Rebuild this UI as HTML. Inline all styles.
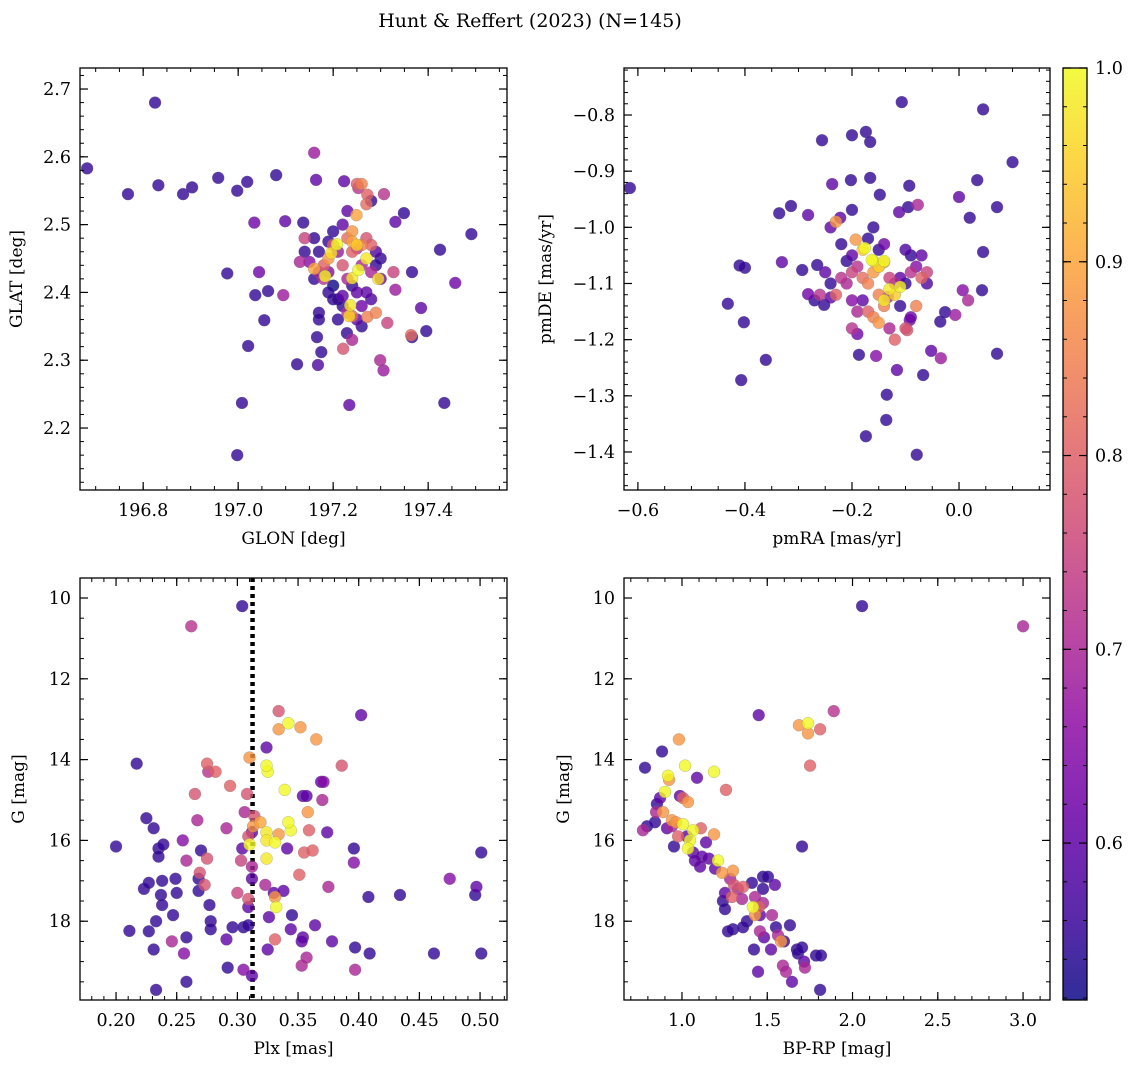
<!DOCTYPE html>
<html><head><meta charset="utf-8"><style>
body{margin:0;background:#fff;}
svg text{font-family:"DejaVu Serif","Liberation Serif",serif;fill:#000;}
</style></head><body>
<svg id="fig" width="1136" height="1067" xmlns="http://www.w3.org/2000/svg">
<rect width="1136" height="1067" fill="#fff"/>
<text x="530" y="27" font-size="19" text-anchor="middle">Hunt &amp; Reffert (2023) (N=145)</text>
</svg>
<script>
// Panel data: [x, y, membership probability]
const p1Points = [
[196.682,2.583,0.55],[196.768,2.545,0.55],[196.832,2.558,0.55],[196.825,2.68,0.55],[196.884,2.545,0.55],[196.903,2.555,0.55],[196.958,2.569,0.55],[196.998,2.55,0.55],[197.019,2.563,0.55],[197.08,2.573,0.55],[197.16,2.606,0.68],[196.977,2.428,0.55],[197.034,2.503,0.62],[197.044,2.43,0.62],[197.036,2.396,0.55],[197.063,2.402,0.55],[197.055,2.359,0.55],[197.021,2.321,0.55],[197.008,2.237,0.55],[196.998,2.16,0.55],[197.095,2.396,0.68],[197.099,2.505,0.6],[197.137,2.503,0.55],[197.164,2.566,0.6],[197.124,2.294,0.55],[197.168,2.293,0.58],[197.166,2.334,0.55],[197.234,2.234,0.6],[197.223,2.564,0.6],[197.253,2.554,0.72],[197.272,2.544,0.8],[197.307,2.545,0.72],[197.349,2.517,0.55],[197.331,2.504,0.6],[197.366,2.43,0.55],[197.366,2.334,0.55],[197.385,2.377,0.6],[197.396,2.343,0.55],[197.425,2.463,0.55],[197.434,2.237,0.55],[197.457,2.414,0.62],[197.491,2.486,0.55],[197.299,2.3,0.7],[197.306,2.285,0.68],[197.272,2.364,0.85],[197.221,2.317,0.78],[197.331,2.404,0.68],[197.364,2.337,0.82],[197.314,2.355,0.75],[197.327,2.43,0.75],[197.229,2.34,0.55],[197.175,2.312,0.55],
[197.208,2.471,1.0],[197.253,2.433,1.0],[197.24,2.421,0.98],[197.295,2.42,0.97],[197.183,2.424,0.99],[197.196,2.458,0.97],[197.234,2.365,0.96],[197.236,2.381,0.98],[197.249,2.514,0.9],
[197.23,2.52,0.6],[197.28,2.535,0.55],[197.27,2.53,0.82],[197.25,2.56,0.8],[197.26,2.56,0.85],
[197.13,2.445,0.7],[197.14,2.48,0.75],[197.16,2.48,0.55],[197.17,2.46,0.55],[197.14,2.46,0.55],[197.15,2.445,0.65],[197.18,2.44,0.8],[197.19,2.45,0.88],[197.17,2.43,0.7],[197.16,2.42,0.55],[197.19,2.43,0.65],[197.18,2.42,0.72],[197.2,2.41,0.5],[197.19,2.4,0.55],[197.2,2.39,0.55],[197.21,2.39,0.55],[197.22,2.395,0.6],[197.22,2.38,0.55],[197.23,2.37,0.72],[197.21,2.36,0.55],[197.17,2.37,0.55],[197.17,2.36,0.55],[197.24,2.41,0.55],[197.25,2.4,0.6],[197.23,2.42,0.7],[197.22,2.44,0.78],[197.24,2.46,0.8],[197.25,2.465,0.72],[197.23,2.48,0.82],[197.24,2.49,0.88],[197.22,2.5,0.6],[197.2,2.49,0.55],[197.2,2.47,0.8],[197.21,2.46,0.68],[197.26,2.47,0.85],[197.27,2.48,0.78],[197.28,2.47,0.8],[197.29,2.46,0.58],[197.3,2.45,0.55],[197.29,2.44,0.55],[197.27,2.45,0.98],[197.28,2.43,0.7],[197.26,2.44,0.7],[197.3,2.42,0.62],[197.27,2.4,0.6],[197.28,2.39,0.58],[197.26,2.38,0.62],[197.29,2.37,0.85],[197.24,2.365,0.82],[197.25,2.36,0.6],[197.26,2.35,0.55],[197.24,2.33,0.7],[197.19,2.475,0.55],[197.16,2.435,0.9],[197.24,2.475,0.9],[197.25,2.47,0.95]
];
const p2Points = [
[-0.615,-0.93,0.55],[-0.4,-1.072,0.55],[-0.41,-1.068,0.55],[-0.402,-1.169,0.55],[-0.432,-1.136,0.55],[-0.407,-1.272,0.55],[-0.361,-1.236,0.55],[-0.331,-1.062,0.6],[-0.256,-0.845,0.55],[-0.2,-0.836,0.55],[-0.174,-0.83,0.55],[-0.166,-0.848,0.55],[-0.107,-0.777,0.55],[0.045,-0.79,0.55],[0.1,-0.884,0.55],
[-0.336,-0.975,0.55],[-0.314,-0.962,0.55],[-0.282,-0.978,0.6],[-0.237,-0.923,0.6],[-0.202,-0.916,0.55],[-0.2,-0.969,0.55],[-0.166,-0.912,0.55],[-0.148,-0.942,0.55],[-0.093,-0.926,0.55],[-0.077,-0.96,0.7],[-0.095,-0.964,0.55],[-0.112,-0.973,0.6],[0.034,-0.916,0.55],[0.02,-0.983,0.55],[0.0,-0.946,0.6],[0.071,-0.964,0.55],[0.045,-1.044,0.55],[0.043,-1.112,0.55],[0.007,-1.112,0.65],[0.017,-1.13,0.7],[-0.026,-1.151,0.55],[-0.007,-1.156,0.68],[-0.035,-1.168,0.55],[-0.034,-1.233,0.68],[-0.052,-1.22,0.6],[0.071,-1.225,0.55],[-0.067,-1.263,0.55],[-0.079,-1.405,0.55],[-0.136,-1.343,0.55],[-0.135,-1.298,0.55],[-0.174,-1.372,0.55],[-0.116,-1.254,0.6],[-0.187,-1.227,0.55],[-0.155,-1.229,0.65],[-0.092,-1.165,0.62],[-0.097,-1.183,0.78],[-0.265,-1.067,0.55],[-0.293,-1.076,0.55],[-0.252,-1.138,0.55],[-0.282,-1.119,0.62],[-0.24,-1.125,0.6],
[-0.176,-1.037,1.0],[-0.163,-1.058,1.0],[-0.14,-1.062,0.9],[-0.15,-1.07,0.95],[-0.133,-1.124,0.7],[-0.11,-1.106,0.99],[-0.193,-1.022,0.88],[-0.222,-0.983,0.6],
[-0.25,-1.08,0.6],[-0.24,-1.1,0.55],[-0.23,-1.12,0.8],[-0.22,-1.09,0.72],[-0.21,-1.1,0.7],[-0.2,-1.08,0.75],[-0.19,-1.07,0.72],[-0.2,-1.05,0.6],[-0.21,-1.06,0.55],[-0.18,-1.09,0.82],[-0.17,-1.1,0.85],[-0.16,-1.08,0.88],[-0.15,-1.07,0.95],[-0.14,-1.06,1.0],[-0.16,-1.06,0.98],[-0.13,-1.09,0.75],[-0.12,-1.1,0.7],[-0.11,-1.09,0.6],[-0.1,-1.1,0.55],[-0.09,-1.08,0.72],[-0.08,-1.07,0.65],[-0.07,-1.09,0.8],[-0.06,-1.1,0.58],[-0.15,-1.12,0.85],[-0.14,-1.14,0.85],[-0.14,-1.13,0.98],[-0.17,-1.15,0.8],[-0.16,-1.16,0.85],[-0.15,-1.17,0.88],[-0.19,-1.15,0.7],[-0.2,-1.13,0.65],[-0.18,-1.13,0.6],[-0.2,-1.18,0.72],[-0.19,-1.19,0.62],[-0.13,-1.18,0.7],[-0.12,-1.2,0.8],[-0.1,-1.18,0.78],[-0.09,-1.16,0.62],[-0.08,-1.14,0.85],[-0.11,-1.14,0.55],[-0.12,-1.12,0.95],[-0.13,-1.11,0.98],[-0.24,-1.0,0.6],[-0.23,-0.99,0.88],[-0.22,-1.03,0.55],[-0.17,-1.02,0.55],[-0.16,-1.0,0.55],[-0.15,-1.04,0.55],[-0.14,-1.03,0.62],[-0.1,-1.04,0.58],[-0.09,-1.05,0.55],[-0.07,-1.05,0.6],[-0.06,-1.08,0.75],[-0.18,-1.04,0.95],[-0.26,-1.12,0.72],[-0.27,-1.13,0.55]
];
const p3Points = [
[0.304,10.2,0.55],[0.262,10.7,0.72],[0.2,16.15,0.55],[0.217,14.1,0.55],[0.211,18.24,0.55],[0.225,15.45,0.55],[0.231,15.7,0.55],[0.235,16.2,0.55],[0.239,16.1,0.55],[0.235,16.4,0.55],[0.223,17.2,0.55],[0.227,17.05,0.55],[0.238,17.0,0.55],[0.237,17.35,0.55],[0.238,17.6,0.55],[0.233,18.0,0.55],[0.227,18.25,0.55],[0.231,18.7,0.55],[0.233,19.7,0.55],[0.247,17.85,0.55],[0.249,16.95,0.55],[0.25,17.3,0.55],[0.246,18.5,0.7],[0.258,18.4,0.55],[0.256,18.8,0.65],[0.258,19.5,0.55],[0.255,16.0,0.65],[0.258,16.5,0.7],[0.27,16.25,0.55],[0.268,16.95,0.55],[0.269,16.8,0.78],[0.268,17.25,0.55],[0.273,17.1,0.78],[0.275,16.45,0.78],[0.267,15.5,0.7],[0.265,14.85,0.78],[0.275,14.1,0.8],[0.276,14.3,0.72],[0.282,14.3,0.8],[0.277,17.6,0.55],[0.278,18.0,0.55],[0.278,18.2,0.55],[0.291,15.7,0.7],[0.294,14.65,0.8],[0.291,18.45,0.6],[0.292,19.15,0.55],[0.296,18.15,0.55],[0.303,16.5,0.75],[0.304,16.2,0.6],[0.3,17.3,0.75],[0.305,18.15,0.55],[0.309,18.1,0.55],[0.306,15.3,0.7],[0.308,14.85,0.78],[0.31,13.95,0.88],[0.305,19.2,0.65],[0.312,19.35,0.6],[0.312,15.8,0.6],[0.313,15.65,0.88],[0.309,15.9,0.78],[0.31,16.1,1.0],[0.312,16.65,0.7],[0.309,17.45,0.78],[0.309,17.65,0.6],[0.312,16.95,0.6],[0.314,15.4,0.78],[0.319,15.55,0.9],[0.325,14.3,1.0],[0.324,14.15,1.0],[0.324,13.7,0.6],[0.324,15.8,0.98],[0.324,16.0,0.98],[0.324,16.45,0.98],[0.323,17.1,0.7],[0.326,17.9,0.6],[0.325,18.7,0.6],[0.33,17.3,0.6],[0.331,17.4,0.88],[0.332,17.65,1.0],[0.331,18.45,0.8],[0.334,12.8,0.78],[0.334,13.25,0.88],[0.342,13.1,1.0],[0.352,13.2,0.88],[0.339,14.75,1.0],[0.344,15.75,1.0],[0.342,15.55,1.0],[0.334,15.85,0.88],[0.331,16.05,1.0],[0.341,16.2,0.6],[0.338,17.25,0.6],[0.345,17.85,0.55],[0.344,18.2,0.6],[0.354,18.4,0.6],[0.353,18.5,0.6],[0.353,19.1,0.7],[0.357,18.9,0.7],[0.364,18.1,0.6],[0.354,14.9,0.6],[0.357,14.9,0.6],[0.365,13.5,0.88],[0.358,15.3,0.88],[0.359,15.75,0.8],[0.355,16.3,0.8],[0.362,16.25,0.8],[0.351,16.85,0.8],[0.369,14.55,0.6],[0.371,14.55,0.65],[0.37,15.0,0.7],[0.374,15.8,0.6],[0.375,17.15,0.7],[0.386,14.15,0.78],[0.378,18.5,0.6],[0.396,16.2,0.55],[0.396,16.55,0.65],[0.397,18.65,0.55],[0.397,19.2,0.7],[0.402,12.9,0.6],[0.408,17.4,0.55],[0.409,18.8,0.55],[0.434,17.35,0.55],[0.462,18.8,0.55],[0.475,16.95,0.65],[0.497,17.15,0.6],[0.496,17.35,0.55],[0.501,16.3,0.55],[0.501,18.8,0.55]
];
const p4Points = [
[2.056,10.2,0.55],[3.0,10.7,0.7],[1.89,12.8,0.72],[1.81,13.25,0.8],[1.686,13.15,0.88],[1.739,13.1,1.0],[1.739,13.35,0.88],[1.45,12.9,0.6],[1.751,14.15,0.8],[0.982,13.5,0.88],
[0.783,14.2,0.55],[0.883,13.8,0.55],[0.918,14.4,1.0],[0.924,14.5,0.88],[1.018,14.15,1.0],[1.088,14.45,0.6],[1.188,14.3,1.0],[1.258,14.75,0.8],[0.9,14.8,1.0],[0.871,14.95,0.6],[0.853,15.1,0.55],[0.848,15.3,0.7],[0.889,15.3,0.88],[0.988,14.9,0.6],[1.006,14.95,0.8],[1.035,15.05,0.88],[1.006,15.6,1.0],[0.941,15.5,0.88],[0.965,15.55,0.88],[0.912,15.7,0.6],[0.941,15.65,0.7],[0.795,15.65,0.55],[0.771,15.75,0.7],[0.842,15.55,0.55],[0.977,15.9,0.8],[1.029,15.9,0.6],[1.065,15.75,1.0],[1.047,16.0,1.0],[0.953,16.15,0.55],[1.035,16.2,1.0],[1.065,16.3,0.6],[1.141,16.05,0.6],[1.188,15.85,0.88],[1.111,15.7,0.8],[1.158,16.45,0.6],[1.211,16.5,1.0],[1.117,16.4,0.6],[1.076,16.5,0.6],[1.194,16.7,0.6],[1.106,16.65,0.6],[1.235,16.8,0.88],[1.299,16.75,0.88],[1.282,16.95,0.7],[1.305,17.1,0.78],[1.252,17.3,0.6],[1.328,17.2,0.7],[1.358,17.15,0.8],[1.293,17.4,0.8],[1.428,17.4,0.7],[1.352,17.45,0.7],[1.475,16.9,0.55],[1.504,16.9,0.55],[1.475,17.2,0.55],[1.545,17.1,0.6],[1.475,17.55,0.7],[1.452,17.65,0.8],[1.416,17.65,1.0],[1.428,17.85,0.88],[1.24,17.5,0.55],[1.252,17.7,0.55],[1.299,18.2,0.55],[1.27,18.25,0.55],[1.381,18.0,0.55],[1.358,18.15,0.55],[1.457,17.85,0.6],[1.528,17.85,0.7],[1.551,18.15,0.55],[1.633,18.1,0.55],[1.563,18.35,0.7],[1.481,18.4,0.6],[1.457,18.25,0.7],[1.598,18.5,0.55],[1.581,18.5,0.88],[1.422,18.7,0.55],[1.522,18.7,0.6],[1.674,18.7,0.55],[1.68,18.8,0.55],[1.704,18.65,0.55],[1.786,18.85,0.55],[1.815,18.85,0.55],[1.716,19.0,0.6],[1.721,19.15,0.7],[1.592,19.1,0.7],[1.61,19.25,0.7],[1.446,19.25,0.6],[1.81,19.7,0.55],[1.645,19.5,0.6],[1.704,16.15,0.55],[1.41,17.05,0.55]
];
const p1Ticks = {x:[196.8,197.0,197.2,197.4], y:[2.2,2.3,2.4,2.5,2.6,2.7]};
const p2Ticks = {x:[-0.6,-0.4,-0.2,0.0], y:[-1.4,-1.3,-1.2,-1.1,-1.0,-0.9,-0.8]};
const p3Ticks = {x:[0.20,0.25,0.30,0.35,0.40,0.45,0.50], y:[10,12,14,16,18]};
const p4Ticks = {x:[1.0,1.5,2.0,2.5,3.0], y:[10,12,14,16,18]};
const cbTicks = [0.6,0.7,0.8,0.9,1.0];
const plxRef = 0.3125;
const vmin = 0.519, vmax = 1.0;

const NS = "http://www.w3.org/2000/svg";
const svg = document.getElementById('fig');
const stops = ["#0d0887","#41049d","#6a00a8","#8f0da4","#b12a90","#cc4778","#e16462","#f2844b","#fca636","#fcce25","#f0f921"];
function hex(h){return [parseInt(h.slice(1,3),16),parseInt(h.slice(3,5),16),parseInt(h.slice(5,7),16)];}
function plasma(t){t=Math.max(0,Math.min(1,t));const f=t*10,i=Math.min(9,Math.floor(f)),u=f-i;const a=hex(stops[i]),b=hex(stops[i+1]);return 'rgb('+a.map((v,k)=>Math.round(v+(b[k]-v)*u)).join(',')+')';}
function mk(tag,attrs,parent){const e=document.createElementNS(NS,tag);for(const k in attrs)e.setAttribute(k,attrs[k]);(parent||svg).appendChild(e);return e;}
function fmt(v,d){return (v<0?'\u2212':'')+Math.abs(v).toFixed(d);}

function panel(cfg){
  const g=mk('g',{});
  
  
  const {L,T,R,B,x0,x1,y0,y1}=cfg;
  const sx=v=>L+(v-x0)/(x1-x0)*(R-L);
  const sy=v=>T+(cfg.invert?(v-y0)/(y1-y0):(y1-v)/(y1-y0))*(B-T);
  if(cfg.vline!==undefined){
    const ln=mk('line',{x1:sx(cfg.vline),x2:sx(cfg.vline),y1:T,y2:B,stroke:'#000','stroke-width':4.5,'stroke-dasharray':'4,4'},g);
    
    
  }
  const pts=cfg.points.slice().sort((a,b)=>a[2]-b[2]);
  for(const p of pts){
    const c=mk('circle',{cx:sx(p[0]),cy:sy(p[1]),r:6,fill:plasma((p[2]-vmin)/(vmax-vmin)),'fill-opacity':0.8,stroke:'#777','stroke-width':0.4,'stroke-opacity':0.6},g);
    
    
  }
  const fr=mk('rect',{x:L,y:T,width:R-L,height:B-T,fill:'none',stroke:'#000','stroke-width':1.3},g);
  
  
  for(let v=Math.ceil(x0/cfg.xmin-1e-9)*cfg.xmin; v<=x1; v+=cfg.xmin){const X=sx(v);mk('line',{x1:X,x2:X,y1:B,y2:B-4,stroke:'#000','stroke-width':1},g);mk('line',{x1:X,x2:X,y1:T,y2:T+4,stroke:'#000','stroke-width':1},g);}
  for(let v=Math.ceil(Math.min(y0,y1)/cfg.ymin-1e-9)*cfg.ymin; v<=Math.max(y0,y1); v+=cfg.ymin){const Y=sy(v);mk('line',{x1:L,x2:L+4,y1:Y,y2:Y,stroke:'#000','stroke-width':1},g);mk('line',{x1:R,x2:R-4,y1:Y,y2:Y,stroke:'#000','stroke-width':1},g);}
  for(const v of cfg.ticks.x){const X=sx(v);mk('line',{x1:X,x2:X,y1:B,y2:B-8,stroke:'#000','stroke-width':1.2},g);mk('line',{x1:X,x2:X,y1:T,y2:T+8,stroke:'#000','stroke-width':1.2},g);
    const t=mk('text',{x:X,y:B+26,'font-size':17.5,'text-anchor':'middle'},g);t.textContent=fmt(v,cfg.xd);
    
    }
  for(const v of cfg.ticks.y){const Y=sy(v);mk('line',{x1:L,x2:L+8,y1:Y,y2:Y,stroke:'#000','stroke-width':1.2},g);mk('line',{x1:R,x2:R-8,y1:Y,y2:Y,stroke:'#000','stroke-width':1.2},g);
    const t=mk('text',{x:L-9,y:Y+6,'font-size':17.5,'text-anchor':'end'},g);t.textContent=fmt(v,cfg.yd);
    
    }
  const xl=mk('text',{x:(L+R)/2,y:B+54,'font-size':17,'text-anchor':'middle'},g);xl.textContent=cfg.xlabel;
  
  
  const yx=cfg.ylx, yy=(T+B)/2;
  const yl=mk('text',{x:yx,y:yy,'font-size':17,'text-anchor':'middle',transform:`rotate(-90 ${yx} ${yy})`},g);yl.textContent=cfg.ylabel;
  
  
}
panel({name:'glon-glat-panel',L:80,T:68,R:507,B:490,x0:196.667,x1:197.566,y0:2.1086,y1:2.731,points:p1Points,ticks:p1Ticks,xmin:0.05,ymin:0.02,xd:1,yd:1,xlabel:'GLON [deg]',ylabel:'GLAT [deg]',ylx:22});
panel({name:'proper-motion-panel',L:624,T:68,R:1050,B:490,x0:-0.626,x1:0.170,y0:-1.4677,y1:-0.7163,points:p2Points,ticks:p2Ticks,xmin:0.05,ymin:0.02,xd:1,yd:1,xlabel:'pmRA [mas/yr]',ylabel:'pmDE [mas/yr]',ylx:551});
panel({name:'parallax-magnitude-panel',L:80,T:578,R:507,B:1000,x0:0.1703,x1:0.5222,y0:9.505,y1:19.95,invert:true,points:p3Points,ticks:p3Ticks,xmin:0.01,ymin:0.5,xd:2,yd:0,xlabel:'Plx [mas]',ylabel:'G [mag]',ylx:24,vline:plxRef});
panel({name:'cmd-panel',L:624,T:578,R:1050,B:1000,x0:0.66,x1:3.158,y0:9.505,y1:19.95,invert:true,points:p4Points,ticks:p4Ticks,xmin:0.1,ymin:0.5,xd:1,yd:0,xlabel:'BP-RP [mag]',ylabel:'G [mag]',ylx:569});

const cb=mk('g',{});


const defs=mk('defs',{},cb);
const lg=mk('linearGradient',{id:'pl',x1:0,y1:1,x2:0,y2:0},defs);
for(let i=0;i<=20;i++){mk('stop',{offset:i/20,'stop-color':plasma(i/20),'stop-opacity':0.85},lg);}
const cT=68,cB=1000,cL=1063,cR=1087;
mk('rect',{x:cL,y:cT,width:cR-cL,height:cB-cT,fill:'url(#pl)',stroke:'#000','stroke-width':1.3},cb);
const cy=v=>cB-(v-vmin)/(vmax-vmin)*(cB-cT);
for(let v=0.52;v<=1.0001;v+=0.02){mk('line',{x1:cR,x2:cR-4,y1:cy(v),y2:cy(v),stroke:'#000','stroke-width':1},cb);mk('line',{x1:cL,x2:cL+4,y1:cy(v),y2:cy(v),stroke:'#000','stroke-width':1},cb);}
for(const v of cbTicks){const Y=cy(v);mk('line',{x1:cR,x2:cR-8,y1:Y,y2:Y,stroke:'#000','stroke-width':1.2},cb);mk('line',{x1:cL,x2:cL+8,y1:Y,y2:Y,stroke:'#000','stroke-width':1.2},cb);
  const t=mk('text',{x:cR+8,y:Y+6,'font-size':17.5},cb);t.textContent=v.toFixed(1);
  
  }
</script>
</body></html>
